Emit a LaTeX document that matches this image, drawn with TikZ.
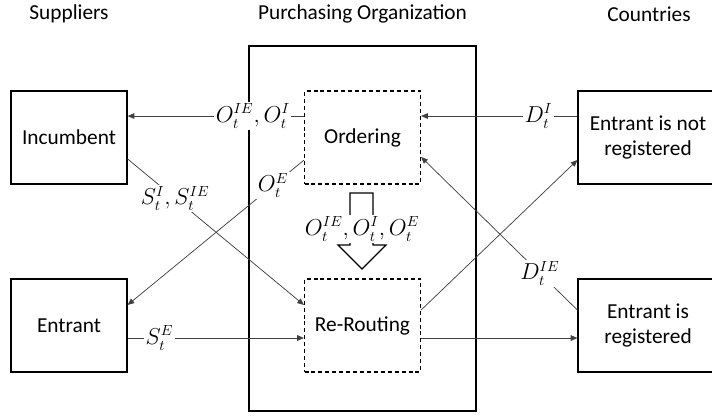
\documentclass[tikz,border=0pt]{standalone}
\usepackage{fontspec}
\setmainfont{Carlito}
\usepackage{amsmath}
\usetikzlibrary{arrows.meta}

\tikzset{
  actor/.style={draw, line width=0.9pt, minimum width=87pt, minimum height=69.75pt, inner sep=0pt, align=center, font=\fontsize{16}{19}\selectfont},
  task/.style={actor, dash pattern={on 3pt off 2.2pt}},
  title/.style={inner sep=0pt, font=\fontsize{16}{19}\selectfont},
  flow/.style={draw=black!75, line width=0.55pt, -{Triangle[length=5pt,width=4.2pt]}},
  lab/.style={fill=white, inner sep=1.2pt, font=\fontsize{16}{19}\selectfont}
}

\begin{document}
\begin{tikzpicture}[x=0.75pt,y=0.75pt,yscale=-1,xscale=1]
\useasboundingbox (0,0) rectangle (712,416);

% Organization frame
\node[draw, line width=0.9pt, minimum width=170.25pt, minimum height=273.75pt] (org) at (362.5,228.5) {};

% Column titles
\node[title] (tsup) at (69,14) {Suppliers};
\node[title] (torg) at (362.5,14) {Purchasing Organization};
\node[title] (tcou) at (649,14) {Countries};

% Boxes
\node[actor] (inc) at (69,137.5) {Incumbent};
\node[actor] (ent) at (69,325.5) {Entrant};
\node[task] (ord) at (362.5,137.5) {Ordering};
\node[task] (rer) at (362.5,325.5) {Re-Routing};
\node[actor, minimum width=105pt] (nreg) at (648,137.5) {Entrant is not\\registered};
\node[actor, minimum width=105pt] (reg) at (648,325.5) {Entrant is\\registered};

% Orders to suppliers
\draw[flow] ([yshift=-16.1pt]ord.west) -- node[lab, pos=0.29] {$O^{IE}_t, O^{I}_t$} ([yshift=-16.1pt]inc.east);
\draw[flow] ([yshift=17pt]ord.west) -- node[lab, pos=0.175] {$O^{E}_t$} ([yshift=-15.4pt]ent.east);

% Supplies
\draw[flow] ([yshift=16.1pt]inc.east) -- node[lab, pos=0.27] {$S^{I}_t, S^{IE}_t$} ([yshift=-15.4pt]rer.west);
\draw[flow] ([yshift=9.4pt]ent.east) -- node[lab, pos=0.18] {$S^{E}_t$} ([yshift=9.4pt]rer.west);

% Demand
\draw[flow] ([yshift=-16.1pt]nreg.west) -- node[lab, pos=0.25] {$D^{I}_t$} ([yshift=-16.1pt]ord.east);
\draw[flow] ([yshift=-11.6pt]reg.west) -- node[lab, pos=0.24] {$D^{IE}_t$} ([yshift=14.6pt]ord.east);

% Deliveries
\draw[flow] ([yshift=-11.6pt]rer.east) -- ([yshift=16.9pt]nreg.west);
\draw[flow] ([yshift=9.4pt]rer.east) -- ([yshift=9.4pt]reg.west);

% Block arrow
\draw[line width=0.9pt, fill=white] (350,193) -- (373,193) -- (373,245) -- (386,245) -- (362,269) -- (338,245) -- (350,245) -- cycle;
\node[lab] (olist) at (362,229) {$O^{IE}_t, O^{I}_t, O^{E}_t$};

\end{tikzpicture}
\end{document}
